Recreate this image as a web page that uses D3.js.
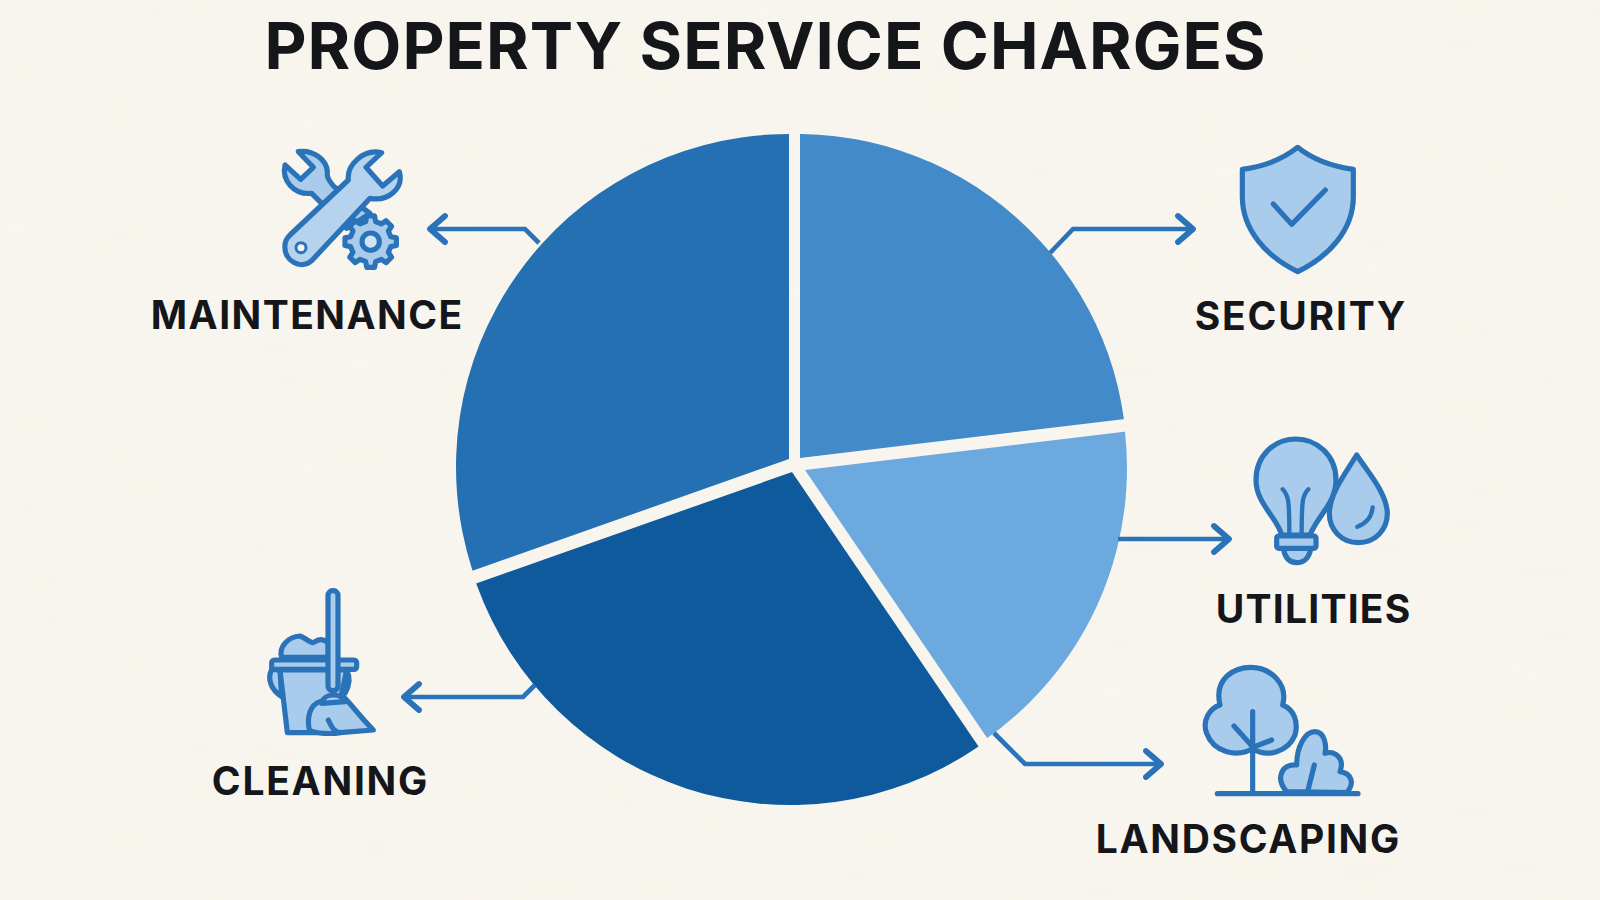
<!DOCTYPE html>
<html><head><meta charset="utf-8">
<script src="https://cdnjs.cloudflare.com/ajax/libs/d3/7.8.5/d3.min.js"></script>
<style>html,body{margin:0;padding:0;background:#f9f6ef;overflow:hidden}svg{display:block}
text{font-family:Inter,"Liberation Sans",sans-serif;font-weight:650;fill:#14161a}</style>
</head><body><svg id="c" width="1600" height="900"></svg>
<script>
// Data (shares in %). Landscaping has a label but no visible wedge.
const categories = ["Security","Utilities","Landscaping","Cleaning","Maintenance"];
const shares = [23.1,17.4,0,29.1,30.4];
const title = "PROPERTY SERVICE CHARGES";
const labels = ["SECURITY","UTILITIES","LANDSCAPING","CLEANING","MAINTENANCE"];
const sliceColors = ["#428aca","#6ca9df","#6ca9df","#0f5a9c","#2570b3"];

// Layout
const W=1600,H=900;
const svg=d3.select("#c");
const ink="#2a73b8", tint="#a9cbec", paper="#f9f6ef";
const sliceCentres=[[797,464,330],[796,468,331],[796,468,331],[790,472,333],[789,467,333]];
const sliceApexes=[[800,458],[805,470],[805,470],[792,472],[789,459]];
const labelBoxes=[[1194.8,330,210.5],[1215.8,623,194.5],[1095.8,853,303.5],[211.8,795,215.5],[150.8,329,311.5]];

svg.append("rect").attr("width",W).attr("height",H).attr("fill",paper);
const defs=svg.append("defs");
const f=defs.append("filter").attr("id","paper").attr("x",0).attr("y",0).attr("width","100%").attr("height","100%");
f.append("feTurbulence").attr("type","fractalNoise").attr("baseFrequency","0.012 0.05").attr("numOctaves",3).attr("seed",4);
f.append("feColorMatrix").attr("values","0 0 0 0 0.55  0 0 0 0 0.5  0 0 0 0 0.4  0 0 0 0.035 0");
svg.append("rect").attr("width",W).attr("height",H).attr("filter","url(#paper)");

// Pie: each slice is a sector of its own circle, trimmed by a wedge whose sides follow the pie angles
const pie=d3.pie().sort(null).value(d=>d);
const arcs=pie(shares).filter(d=>d.value>0);
const arc=d3.arc().innerRadius(0);
const far=1000;
const ray=(p,a)=>[p[0]+far*Math.sin(a),p[1]-far*Math.cos(a)];
defs.selectAll("clipPath").data(arcs).join("clipPath").attr("id",d=>"w"+d.index)
  .append("path").attr("d",d=>{const p=sliceApexes[d.index];
    return d3.line()([p,ray(p,d.startAngle),ray(p,d.endAngle)])+"Z";});
svg.append("g").selectAll("g").data(arcs).join("g")
  .attr("clip-path",d=>`url(#w${d.index})`)
  .append("path")
  .attr("transform",d=>`translate(${sliceCentres[d.index][0]},${sliceCentres[d.index][1]})`)
  .attr("d",d=>arc.outerRadius(sliceCentres[d.index][2])({startAngle:d.startAngle-0.9,endAngle:d.endAngle+0.9}))
  .attr("fill",d=>sliceColors[d.index]);

// Leaders
const leaders=[
 [[1050,253],[1073,229],[1193,229]],
 [[1118,539],[1229,539]],
 [[994,733],[1025,764],[1161,764]],
 [[535,685],[523,697],[404,697]],
 [[539,243],[525,229],[430,229]]];
const lineGen=d3.line();
const lg=svg.append("g").attr("fill","none").attr("stroke",ink).attr("stroke-width",4.6).attr("stroke-linejoin","miter");
leaders.forEach(p=>{
  lg.append("path").attr("d",lineGen(p));
  const t=p[p.length-1], s=t[0]>p[p.length-2][0]?-1:1;
  lg.append("path").attr("stroke-linecap","round").attr("stroke-linejoin","round").attr("stroke-width",5.8)
    .attr("d",lineGen([[t[0]+s*15,t[1]-13],t,[t[0]+s*15,t[1]+13]]));
});

// Text
svg.append("text").attr("x",264.5).attr("y",68.5).attr("font-size",65)
  .style("font-weight",750).attr("textLength",1001).attr("lengthAdjust","spacing").text(title);
svg.append("g").selectAll("text").data(labels).join("text")
  .attr("x",(d,i)=>labelBoxes[i][0]).attr("y",(d,i)=>labelBoxes[i][1])
  .attr("font-size",39).attr("textLength",(d,i)=>labelBoxes[i][2]).attr("lengthAdjust","spacing").text(d=>d);

// Icons, drawn in 3x crop units
function icon(x,y){return svg.append("g").attr("transform",`translate(${x},${y}) scale(${1/3})`)
  .attr("stroke",ink).attr("stroke-width",15.5).attr("stroke-linejoin","round").attr("stroke-linecap","round").attr("fill",tint);}
function gearPath(cx,cy,r0,r1,n){const pts=[];for(let i=0;i<n;i++){const a=i/n*2*Math.PI,w=Math.PI/n;
  [[-.62,r0],[-.38,r1],[.38,r1],[.62,r0]].forEach(([k,r])=>pts.push([cx+r*Math.cos(a+k*w),cy+r*Math.sin(a+k*w)]));}
  return d3.line()(pts)+"Z";}
const im=icon(130,130);
im.append("path").attr("d","M505 65L550 112L512 148L465 105C455 150 490 195 545 190L650 295L720 250L612 170C595 150 590 140 592 125C590 90 550 58 505 65Z");
im.append("path").attr("d",gearPath(722,335,62,78,8));
im.append("circle").attr("cx",722).attr("cy",335).attr("r",26).attr("fill","#d5e4f3");
im.append("path").attr("d","M755 68L708 112L758 168L808 125C822 175 775 215 720 205L545 392C515 420 460 395 465 345C465 330 475 320 480 315L655 150C650 105 700 55 755 68Z").attr("fill","#b5d2ef");
im.append("circle").attr("cx",513).attr("cy",353).attr("r",15).attr("fill",paper).attr("stroke-width",9);

const is=icon(1040,130);
is.append("path").attr("d","M773 52C725 90 670 110 607 118L607 200C607 300 680 380 773 425C866 380 940 300 940 200L940 118C880 110 820 90 773 52Z");
is.append("path").attr("fill","none").attr("d","M700 222L755 283L856 180");

const iu=icon(1100,420);
iu.append("path").attr("d","M545 345C530 290 468 250 468 180C468 105 525 57 587 57C650 57 708 105 708 180C708 250 650 290 630 345Z");
iu.append("path").attr("fill","none").attr("stroke-width",13).attr("d","M548 208C565 225 568 240 568 340M625 208C608 225 605 240 605 340");
iu.append("path").attr("d","M550 385C555 415 570 428 590 428C610 428 628 415 632 385Z");
iu.append("rect").attr("x",530).attr("y",348).attr("width",118).attr("height",37).attr("rx",6);
iu.append("path").attr("d","M770 105C730 170 690 220 688 280C688 330 725 368 775 368C825 368 862 330 862 280C860 220 810 165 770 105Z");
iu.append("path").attr("fill","none").attr("stroke-width",13).attr("d","M818 262C815 290 800 310 772 320");

const il=icon(980,650);
il.append("path").attr("d","M720 165C700 80 770 52 812 52C870 52 925 100 908 165C945 180 955 220 945 255C925 305 860 325 818 295C770 325 700 305 680 250C665 210 690 175 720 165Z");
il.append("path").attr("fill","none").attr("d","M818 185L818 430M762 228L818 290M875 270L818 292");
il.append("path").attr("d","M920 425C885 385 905 340 950 345C950 290 975 245 1005 245C1035 245 1040 290 1035 310C1065 300 1095 325 1080 365C1115 370 1125 400 1100 428Z");
il.append("path").attr("fill","none").attr("d","M1003 345L982 428M712 431L1134 431");

const ic=icon(200,580);
ic.append("path").attr("d","M245 232C235 200 265 170 300 168C320 175 335 195 345 185C360 175 375 178 385 190L385 232Z");
ic.append("path").attr("d","M215 268C200 300 215 330 245 350L240 270Z");
ic.append("path").attr("d","M440 270C450 290 450 315 435 340Z");
ic.append("path").attr("d","M240 270L262 458L400 458L440 270Z");
ic.append("rect").attr("x",215).attr("y",240).attr("width",255).attr("height",28).attr("rx",8);
ic.append("rect").attr("x",384).attr("y",32).attr("width",30).attr("height",300).attr("rx",14);
ic.append("path").attr("d","M360 365C330 375 320 410 328 450C345 462 400 462 420 458L520 450C480 410 460 380 435 355Z");
ic.append("path").attr("d","M365 370C370 340 420 335 435 365Z");
ic.append("path").attr("fill","none").attr("d","M385 420C395 440 400 455 420 458");
</script></body></html>
